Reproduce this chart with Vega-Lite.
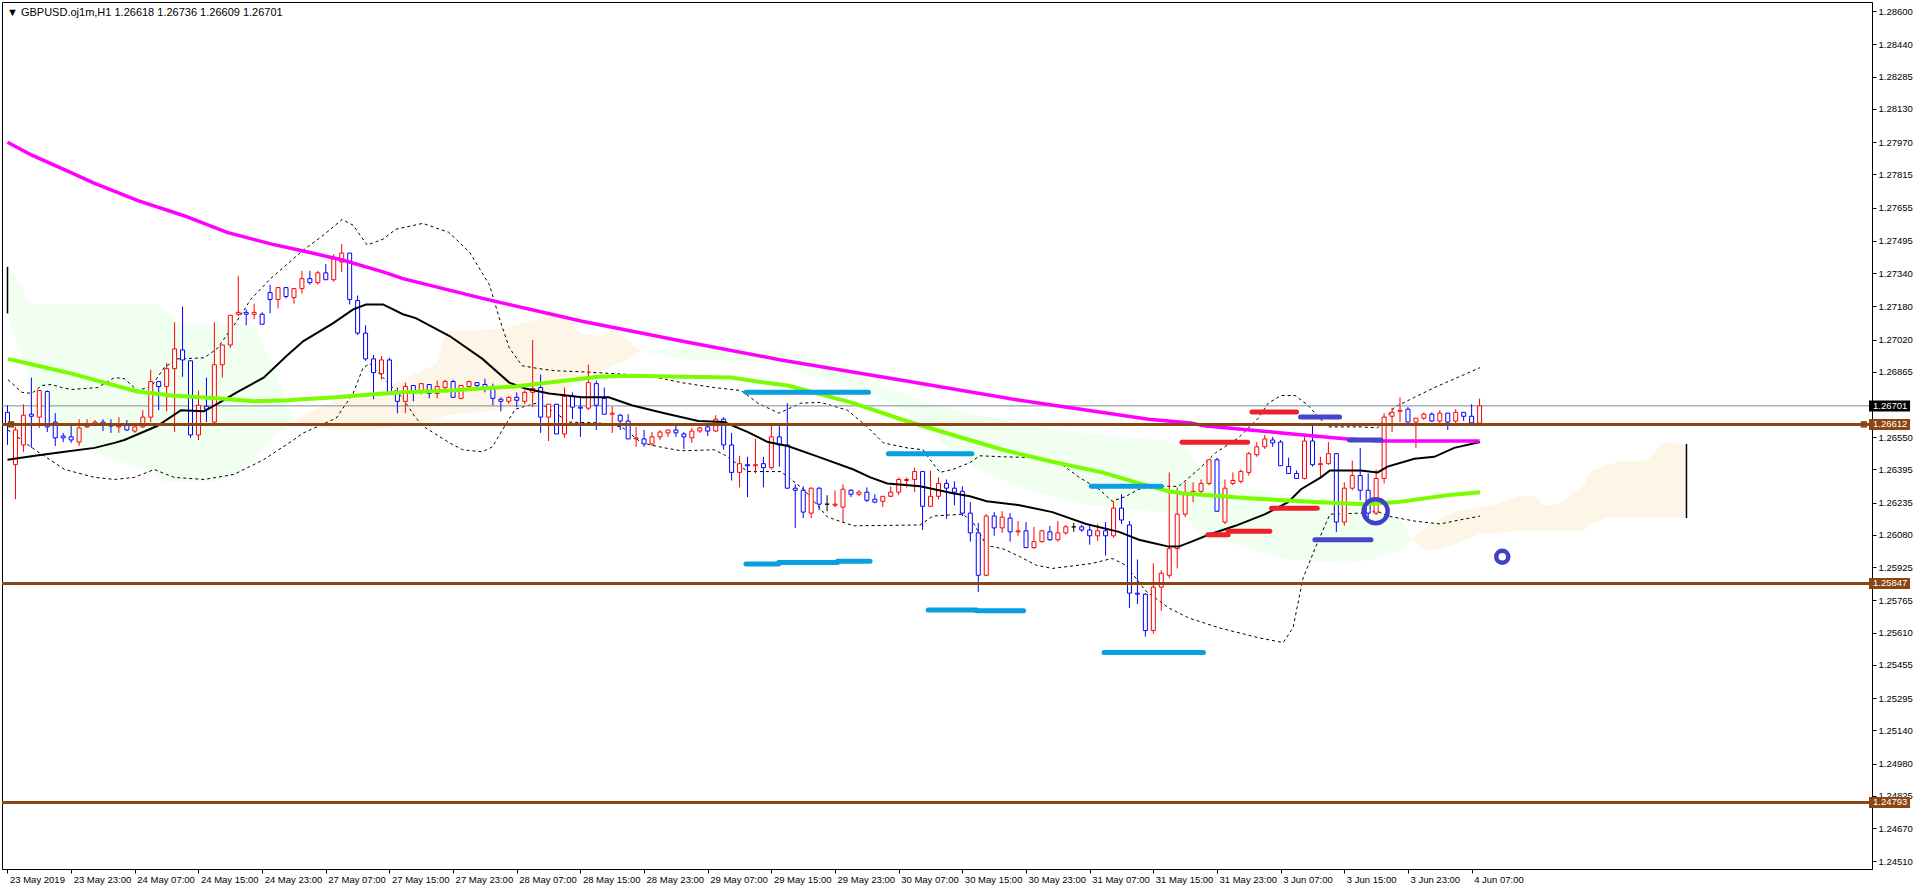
{
"$schema":"https://vega.github.io/schema/vega-lite/v6.json",
"width":1870,"height":867,
"autosize":{"type":"none"},
"padding":{"left":2,"top":2,"right":46,"bottom":21},
"background":"#ffffff",
"title":{"text":"▼ GBPUSD.oj1m,H1  1.26618 1.26736 1.26609 1.26701","anchor":"start","frame":"group","orient":"top","offset":-16,"fontSize":11,"fontWeight":"normal","font":"Liberation Sans","color":"#000000","dx":5},
"config":{"view":{"stroke":"#000000","strokeWidth":1},"axis":{"labelFont":"Liberation Sans","labelFontSize":9.5,"labelColor":"#000000","tickColor":"#000000","domainColor":"#000000","tickSize":4,"grid":false}},
"resolve":{"scale":{"color":"independent","size":"independent"},"axis":{"x":"independent","y":"independent"}},
"datasets":{
"candles":[
{"i":0,"o":1.26670,"h":1.26704,"l":1.26513,"c":1.26609},
{"i":1,"o":1.26418,"h":1.26600,"l":1.26252,"c":1.26585},
{"i":2,"o":1.26513,"h":1.26709,"l":1.26480,"c":1.26656},
{"i":3,"o":1.26661,"h":1.26837,"l":1.26499,"c":1.26651},
{"i":4,"o":1.26647,"h":1.26775,"l":1.26595,"c":1.26775},
{"i":5,"o":1.26770,"h":1.26775,"l":1.26575,"c":1.26600},
{"i":6,"o":1.26623,"h":1.26666,"l":1.26508,"c":1.26547},
{"i":7,"o":1.26556,"h":1.26571,"l":1.26527,"c":1.26547},
{"i":8,"o":1.26552,"h":1.26604,"l":1.26523,"c":1.26537},
{"i":9,"o":1.26527,"h":1.26637,"l":1.26508,"c":1.26595},
{"i":10,"o":1.26600,"h":1.26637,"l":1.26595,"c":1.26604},
{"i":11,"o":1.26614,"h":1.26633,"l":1.26604,"c":1.26623},
{"i":12,"o":1.26623,"h":1.26637,"l":1.26580,"c":1.26614},
{"i":13,"o":1.26609,"h":1.26637,"l":1.26571,"c":1.26604},
{"i":14,"o":1.26600,"h":1.26647,"l":1.26571,"c":1.26604},
{"i":15,"o":1.26609,"h":1.26633,"l":1.26580,"c":1.26585},
{"i":16,"o":1.26580,"h":1.26600,"l":1.26571,"c":1.26600},
{"i":17,"o":1.26600,"h":1.26680,"l":1.26595,"c":1.26647},
{"i":18,"o":1.26647,"h":1.26875,"l":1.26623,"c":1.26818},
{"i":19,"o":1.26818,"h":1.26818,"l":1.26680,"c":1.26794},
{"i":20,"o":1.26794,"h":1.26908,"l":1.26675,"c":1.26880},
{"i":21,"o":1.26880,"h":1.27103,"l":1.26575,"c":1.26975},
{"i":22,"o":1.26970,"h":1.27179,"l":1.26841,"c":1.26922},
{"i":23,"o":1.26918,"h":1.26918,"l":1.26547,"c":1.26561},
{"i":24,"o":1.26561,"h":1.26775,"l":1.26537,"c":1.26704},
{"i":25,"o":1.26699,"h":1.26837,"l":1.26623,"c":1.26685},
{"i":26,"o":1.26623,"h":1.27103,"l":1.26614,"c":1.26899},
{"i":27,"o":1.26899,"h":1.26994,"l":1.26837,"c":1.26994},
{"i":28,"o":1.26994,"h":1.27137,"l":1.26980,"c":1.27137},
{"i":29,"o":1.27142,"h":1.27327,"l":1.27132,"c":1.27151},
{"i":30,"o":1.27151,"h":1.27165,"l":1.27089,"c":1.27142},
{"i":31,"o":1.27142,"h":1.27193,"l":1.27118,"c":1.27151},
{"i":32,"o":1.27142,"h":1.27151,"l":1.27094,"c":1.27094},
{"i":33,"o":1.27246,"h":1.27284,"l":1.27146,"c":1.27213},
{"i":34,"o":1.27213,"h":1.27270,"l":1.27170,"c":1.27270},
{"i":35,"o":1.27270,"h":1.27270,"l":1.27218,"c":1.27227},
{"i":36,"o":1.27222,"h":1.27265,"l":1.27193,"c":1.27265},
{"i":37,"o":1.27265,"h":1.27351,"l":1.27241,"c":1.27313},
{"i":38,"o":1.27313,"h":1.27351,"l":1.27284,"c":1.27294},
{"i":39,"o":1.27294,"h":1.27351,"l":1.27284,"c":1.27341},
{"i":40,"o":1.27341,"h":1.27384,"l":1.27308,"c":1.27308},
{"i":41,"o":1.27308,"h":1.27431,"l":1.27298,"c":1.27408},
{"i":42,"o":1.27393,"h":1.27479,"l":1.27346,"c":1.27436},
{"i":43,"o":1.27436,"h":1.27436,"l":1.27189,"c":1.27213},
{"i":44,"o":1.27208,"h":1.27232,"l":1.27042,"c":1.27051},
{"i":45,"o":1.27051,"h":1.27089,"l":1.26918,"c":1.26927},
{"i":46,"o":1.26927,"h":1.26946,"l":1.26733,"c":1.26861},
{"i":47,"o":1.26856,"h":1.26941,"l":1.26827,"c":1.26922},
{"i":48,"o":1.26922,"h":1.26932,"l":1.26766,"c":1.26766},
{"i":49,"o":1.26766,"h":1.26789,"l":1.26666,"c":1.26723},
{"i":50,"o":1.26723,"h":1.26813,"l":1.26666,"c":1.26794},
{"i":51,"o":1.26799,"h":1.26799,"l":1.26723,"c":1.26766},
{"i":52,"o":1.26766,"h":1.26808,"l":1.26756,"c":1.26808},
{"i":53,"o":1.26804,"h":1.26804,"l":1.26737,"c":1.26761},
{"i":54,"o":1.26761,"h":1.26823,"l":1.26737,"c":1.26794},
{"i":55,"o":1.26789,"h":1.26827,"l":1.26766,"c":1.26818},
{"i":56,"o":1.26818,"h":1.26827,"l":1.26742,"c":1.26742},
{"i":57,"o":1.26737,"h":1.26799,"l":1.26733,"c":1.26799},
{"i":58,"o":1.26794,"h":1.26823,"l":1.26789,"c":1.26818},
{"i":59,"o":1.26813,"h":1.26813,"l":1.26789,"c":1.26799},
{"i":60,"o":1.26804,"h":1.26832,"l":1.26766,"c":1.26785},
{"i":61,"o":1.26785,"h":1.26808,"l":1.26704,"c":1.26737},
{"i":62,"o":1.26733,"h":1.26742,"l":1.26675,"c":1.26723},
{"i":63,"o":1.26723,"h":1.26747,"l":1.26709,"c":1.26742},
{"i":64,"o":1.26742,"h":1.26766,"l":1.26695,"c":1.26728},
{"i":65,"o":1.26723,"h":1.26775,"l":1.26709,"c":1.26766},
{"i":66,"o":1.26766,"h":1.27018,"l":1.26695,"c":1.26785},
{"i":67,"o":1.26789,"h":1.26851,"l":1.26571,"c":1.26647},
{"i":68,"o":1.26647,"h":1.26709,"l":1.26532,"c":1.26709},
{"i":69,"o":1.26709,"h":1.26709,"l":1.26566,"c":1.26566},
{"i":70,"o":1.26566,"h":1.26789,"l":1.26547,"c":1.26747},
{"i":71,"o":1.26747,"h":1.26766,"l":1.26637,"c":1.26695},
{"i":72,"o":1.26695,"h":1.26742,"l":1.26552,"c":1.26690},
{"i":73,"o":1.26690,"h":1.26899,"l":1.26680,"c":1.26813},
{"i":74,"o":1.26808,"h":1.26823,"l":1.26585,"c":1.26704},
{"i":75,"o":1.26737,"h":1.26789,"l":1.26661,"c":1.26661},
{"i":76,"o":1.26661,"h":1.26699,"l":1.26571,"c":1.26666},
{"i":77,"o":1.26656,"h":1.26661,"l":1.26585,"c":1.26628},
{"i":78,"o":1.26628,"h":1.26661,"l":1.26542,"c":1.26542},
{"i":79,"o":1.26542,"h":1.26600,"l":1.26504,"c":1.26547},
{"i":80,"o":1.26542,"h":1.26585,"l":1.26504,"c":1.26518},
{"i":81,"o":1.26518,"h":1.26575,"l":1.26508,"c":1.26552},
{"i":82,"o":1.26552,"h":1.26585,"l":1.26537,"c":1.26575},
{"i":83,"o":1.26571,"h":1.26585,"l":1.26552,"c":1.26585},
{"i":84,"o":1.26585,"h":1.26619,"l":1.26552,"c":1.26571},
{"i":85,"o":1.26566,"h":1.26575,"l":1.26494,"c":1.26552},
{"i":86,"o":1.26547,"h":1.26595,"l":1.26523,"c":1.26580},
{"i":87,"o":1.26580,"h":1.26600,"l":1.26571,"c":1.26595},
{"i":88,"o":1.26600,"h":1.26619,"l":1.26556,"c":1.26580},
{"i":89,"o":1.26580,"h":1.26656,"l":1.26575,"c":1.26637},
{"i":90,"o":1.26637,"h":1.26647,"l":1.26490,"c":1.26513},
{"i":91,"o":1.26513,"h":1.26571,"l":1.26342,"c":1.26381},
{"i":92,"o":1.26381,"h":1.26461,"l":1.26309,"c":1.26423},
{"i":93,"o":1.26418,"h":1.26456,"l":1.26262,"c":1.26413},
{"i":94,"o":1.26413,"h":1.26542,"l":1.26376,"c":1.26418},
{"i":95,"o":1.26423,"h":1.26456,"l":1.26309,"c":1.26404},
{"i":96,"o":1.26404,"h":1.26619,"l":1.26395,"c":1.26552},
{"i":97,"o":1.26552,"h":1.26604,"l":1.26409,"c":1.26513},
{"i":98,"o":1.26513,"h":1.26714,"l":1.26305,"c":1.26305},
{"i":99,"o":1.26305,"h":1.26323,"l":1.26114,"c":1.26295},
{"i":100,"o":1.26295,"h":1.26314,"l":1.26161,"c":1.26190},
{"i":101,"o":1.26185,"h":1.26309,"l":1.26161,"c":1.26305},
{"i":102,"o":1.26305,"h":1.26309,"l":1.26199,"c":1.26228},
{"i":103,"o":1.26228,"h":1.26271,"l":1.26194,"c":1.26228},
{"i":104,"o":1.26223,"h":1.26295,"l":1.26214,"c":1.26228},
{"i":105,"o":1.26214,"h":1.26323,"l":1.26142,"c":1.26300},
{"i":106,"o":1.26295,"h":1.26300,"l":1.26262,"c":1.26276},
{"i":107,"o":1.26276,"h":1.26295,"l":1.26266,"c":1.26286},
{"i":108,"o":1.26286,"h":1.26309,"l":1.26238,"c":1.26247},
{"i":109,"o":1.26252,"h":1.26276,"l":1.26233,"c":1.26238},
{"i":110,"o":1.26242,"h":1.26266,"l":1.26214,"c":1.26266},
{"i":111,"o":1.26266,"h":1.26314,"l":1.26262,"c":1.26286},
{"i":112,"o":1.26286,"h":1.26357,"l":1.26271,"c":1.26347},
{"i":113,"o":1.26342,"h":1.26357,"l":1.26309,"c":1.26347},
{"i":114,"o":1.26347,"h":1.26404,"l":1.26286,"c":1.26385},
{"i":115,"o":1.26385,"h":1.26385,"l":1.26104,"c":1.26218},
{"i":116,"o":1.26218,"h":1.26390,"l":1.26214,"c":1.26266},
{"i":117,"o":1.26266,"h":1.26357,"l":1.26252,"c":1.26328},
{"i":118,"o":1.26328,"h":1.26347,"l":1.26157,"c":1.26305},
{"i":119,"o":1.26305,"h":1.26338,"l":1.26223,"c":1.26286},
{"i":120,"o":1.26290,"h":1.26314,"l":1.26171,"c":1.26185},
{"i":121,"o":1.26185,"h":1.26238,"l":1.26048,"c":1.26090},
{"i":122,"o":1.26090,"h":1.26138,"l":1.25805,"c":1.25886},
{"i":123,"o":1.25886,"h":1.26180,"l":1.25881,"c":1.26171},
{"i":124,"o":1.26171,"h":1.26190,"l":1.26076,"c":1.26114},
{"i":125,"o":1.26114,"h":1.26194,"l":1.26090,"c":1.26166},
{"i":126,"o":1.26161,"h":1.26185,"l":1.26048,"c":1.26095},
{"i":127,"o":1.26095,"h":1.26147,"l":1.26076,"c":1.26100},
{"i":128,"o":1.26100,"h":1.26142,"l":1.26019,"c":1.26019},
{"i":129,"o":1.26019,"h":1.26119,"l":1.26014,"c":1.26048},
{"i":130,"o":1.26048,"h":1.26104,"l":1.26043,"c":1.26100},
{"i":131,"o":1.26095,"h":1.26124,"l":1.26052,"c":1.26057},
{"i":132,"o":1.26057,"h":1.26147,"l":1.26048,"c":1.26090},
{"i":133,"o":1.26090,"h":1.26128,"l":1.26081,"c":1.26119},
{"i":134,"o":1.26119,"h":1.26138,"l":1.26095,"c":1.26119},
{"i":135,"o":1.26119,"h":1.26128,"l":1.26095,"c":1.26104},
{"i":136,"o":1.26104,"h":1.26124,"l":1.26033,"c":1.26076},
{"i":137,"o":1.26076,"h":1.26133,"l":1.26052,"c":1.26100},
{"i":138,"o":1.26100,"h":1.26142,"l":1.25981,"c":1.26076},
{"i":139,"o":1.26076,"h":1.26242,"l":1.26067,"c":1.26209},
{"i":140,"o":1.26209,"h":1.26276,"l":1.26133,"c":1.26152},
{"i":141,"o":1.26128,"h":1.26147,"l":1.25729,"c":1.25800},
{"i":142,"o":1.25800,"h":1.25962,"l":1.25748,"c":1.25795},
{"i":143,"o":1.25795,"h":1.25800,"l":1.25591,"c":1.25620},
{"i":144,"o":1.25620,"h":1.25943,"l":1.25605,"c":1.25829},
{"i":145,"o":1.25829,"h":1.25910,"l":1.25715,"c":1.25896},
{"i":146,"o":1.25886,"h":1.26381,"l":1.25872,"c":1.26014},
{"i":147,"o":1.26014,"h":1.26309,"l":1.25919,"c":1.26180},
{"i":148,"o":1.26180,"h":1.26333,"l":1.26166,"c":1.26276},
{"i":149,"o":1.26276,"h":1.26333,"l":1.26238,"c":1.26290},
{"i":150,"o":1.26290,"h":1.26347,"l":1.26276,"c":1.26328},
{"i":151,"o":1.26328,"h":1.26442,"l":1.26319,"c":1.26442},
{"i":152,"o":1.26442,"h":1.26452,"l":1.26194,"c":1.26194},
{"i":153,"o":1.26142,"h":1.26347,"l":1.26133,"c":1.26305},
{"i":154,"o":1.26328,"h":1.26381,"l":1.26319,"c":1.26342},
{"i":155,"o":1.26338,"h":1.26395,"l":1.26328,"c":1.26385},
{"i":156,"o":1.26381,"h":1.26480,"l":1.26366,"c":1.26471},
{"i":157,"o":1.26466,"h":1.26527,"l":1.26456,"c":1.26504},
{"i":158,"o":1.26504,"h":1.26561,"l":1.26494,"c":1.26542},
{"i":159,"o":1.26537,"h":1.26552,"l":1.26504,"c":1.26523},
{"i":160,"o":1.26527,"h":1.26537,"l":1.26413,"c":1.26413},
{"i":161,"o":1.26409,"h":1.26452,"l":1.26376,"c":1.26376},
{"i":162,"o":1.26376,"h":1.26390,"l":1.26352,"c":1.26352},
{"i":163,"o":1.26352,"h":1.26552,"l":1.26347,"c":1.26532},
{"i":164,"o":1.26532,"h":1.26604,"l":1.26409,"c":1.26418},
{"i":165,"o":1.26418,"h":1.26456,"l":1.26357,"c":1.26423},
{"i":166,"o":1.26423,"h":1.26527,"l":1.26418,"c":1.26471},
{"i":167,"o":1.26471,"h":1.26475,"l":1.26095,"c":1.26142},
{"i":168,"o":1.26142,"h":1.26333,"l":1.26124,"c":1.26305},
{"i":169,"o":1.26305,"h":1.26437,"l":1.26295,"c":1.26366},
{"i":170,"o":1.26366,"h":1.26499,"l":1.26247,"c":1.26295},
{"i":171,"o":1.26295,"h":1.26376,"l":1.26157,"c":1.26185},
{"i":172,"o":1.26185,"h":1.26395,"l":1.26176,"c":1.26352},
{"i":173,"o":1.26352,"h":1.26666,"l":1.26328,"c":1.26647},
{"i":174,"o":1.26651,"h":1.26690,"l":1.26575,"c":1.26670},
{"i":175,"o":1.26675,"h":1.26742,"l":1.26623,"c":1.26680},
{"i":176,"o":1.26685,"h":1.26695,"l":1.26623,"c":1.26623},
{"i":177,"o":1.26623,"h":1.26642,"l":1.26499,"c":1.26642},
{"i":178,"o":1.26642,"h":1.26670,"l":1.26633,"c":1.26661},
{"i":179,"o":1.26661,"h":1.26670,"l":1.26623,"c":1.26628},
{"i":180,"o":1.26628,"h":1.26680,"l":1.26619,"c":1.26666},
{"i":181,"o":1.26666,"h":1.26666,"l":1.26585,"c":1.26623},
{"i":182,"o":1.26628,"h":1.26685,"l":1.26619,"c":1.26670},
{"i":183,"o":1.26670,"h":1.26670,"l":1.26628,"c":1.26651},
{"i":184,"o":1.26651,"h":1.26709,"l":1.26619,"c":1.26619},
{"i":185,"o":1.26618,"h":1.26736,"l":1.26609,"c":1.26701}
],
"ma200":[
{"i":0,"p":1.27969},{"i":3.06,"p":1.27907},{"i":8.06,"p":1.27822},{"i":10.8,"p":1.27774},{"i":16.4,"p":1.27688},{"i":22.1,"p":1.27617},{"i":27.6,"p":1.27536},{"i":33.2,"p":1.27479},{"i":36.6,"p":1.27451},{"i":42.1,"p":1.27403},{"i":47.2,"p":1.27346},{"i":49.7,"p":1.27313},{"i":59.7,"p":1.27218},{"i":72.2,"p":1.27108},{"i":84.7,"p":1.27013},{"i":97.2,"p":1.26922},{"i":112.6,"p":1.26823},{"i":127.2,"p":1.26728},{"i":143.4,"p":1.26637},{"i":148.7,"p":1.26619},{"i":150.6,"p":1.26604},{"i":160.1,"p":1.26571},{"i":168.4,"p":1.26542},{"i":172.6,"p":1.26532},{"i":185,"p":1.26532}
],
"ma":[
{"i":0,"p":1.26442},{"i":3.44,"p":1.26461},{"i":7.19,"p":1.26480},{"i":10.94,"p":1.26499},{"i":13.44,"p":1.26523},{"i":14.69,"p":1.26537},{"i":18.81,"p":1.26604},{"i":21.81,"p":1.26680},{"i":24.69,"p":1.26675},{"i":26.31,"p":1.26709},{"i":28.81,"p":1.26766},{"i":32.19,"p":1.26837},{"i":35.06,"p":1.26941},{"i":37.19,"p":1.27013},{"i":40.94,"p":1.27099},{"i":43.44,"p":1.27165},{"i":45.06,"p":1.27189},{"i":47.19,"p":1.27189},{"i":49.69,"p":1.27142},{"i":51.31,"p":1.27123},{"i":55.56,"p":1.27037},{"i":59.69,"p":1.26927},{"i":63.06,"p":1.26813},{"i":65.06,"p":1.26785},{"i":68.06,"p":1.26761},{"i":72.19,"p":1.26742},{"i":75.56,"p":1.26742},{"i":78.44,"p":1.26704},{"i":82.56,"p":1.26666},{"i":86.81,"p":1.26628},{"i":90.06,"p":1.26623},{"i":93.06,"p":1.26575},{"i":95.56,"p":1.26527},{"i":98.06,"p":1.26508},{"i":102.19,"p":1.26452},{"i":106.31,"p":1.26395},{"i":108.44,"p":1.26357},{"i":110.56,"p":1.26328},{"i":114.69,"p":1.26314},{"i":118.81,"p":1.26281},{"i":120.94,"p":1.26266},{"i":123.06,"p":1.26242},{"i":127.19,"p":1.26223},{"i":131.31,"p":1.26190},{"i":135.56,"p":1.26133},{"i":139.69,"p":1.26095},{"i":142.19,"p":1.26057},{"i":143.81,"p":1.26043},{"i":145.94,"p":1.26024},{"i":147.19,"p":1.26024},{"i":148.81,"p":1.26048},{"i":150.94,"p":1.26081},{"i":154.31,"p":1.26124},{"i":158.06,"p":1.26180},{"i":160.94,"p":1.26238},{"i":162.56,"p":1.26300},{"i":165.06,"p":1.26357},{"i":166.19,"p":1.26390},{"i":170.06,"p":1.26390},{"i":172.19,"p":1.26381},{"i":173.44,"p":1.26409},{"i":176.81,"p":1.26447},{"i":179.31,"p":1.26456},{"i":181.81,"p":1.26499},{"i":185.06,"p":1.26527}
],
"ema":[
{"i":0.06,"p":1.26927},{"i":3.81,"p":1.26894},{"i":8.06,"p":1.26856},{"i":12.19,"p":1.26813},{"i":16.31,"p":1.26770},{"i":20.56,"p":1.26751},{"i":26.81,"p":1.26737},{"i":30.94,"p":1.26723},{"i":35.06,"p":1.26728},{"i":41.31,"p":1.26742},{"i":45.56,"p":1.26756},{"i":49.69,"p":1.26766},{"i":55.56,"p":1.26775},{"i":63.81,"p":1.26794},{"i":68.06,"p":1.26813},{"i":74.31,"p":1.26841},{"i":78.44,"p":1.26846},{"i":84.69,"p":1.26841},{"i":90.94,"p":1.26837},{"i":95.06,"p":1.26813},{"i":98.06,"p":1.26799},{"i":106.31,"p":1.26714},{"i":112.56,"p":1.26633},{"i":118.81,"p":1.26561},{"i":125.06,"p":1.26490},{"i":131.31,"p":1.26432},{"i":137.56,"p":1.26381},{"i":141.81,"p":1.26333},{"i":145.94,"p":1.26290},{"i":147.56,"p":1.26281},{"i":155.94,"p":1.26257},{"i":164.31,"p":1.26238},{"i":170.56,"p":1.26228},{"i":174.69,"p":1.26238},{"i":180.94,"p":1.26271},{"i":185.06,"p":1.26286}
],
"bbu":[
{"i":0.06,"p":1.26827},{"i":1.81,"p":1.26766},{"i":3.06,"p":1.26761},{"i":4.31,"p":1.26799},{"i":5.56,"p":1.26804},{"i":6.81,"p":1.26789},{"i":8.06,"p":1.26780},{"i":11.31,"p":1.26789},{"i":13.44,"p":1.26837},{"i":14.69,"p":1.26832},{"i":16.31,"p":1.26775},{"i":18.06,"p":1.26794},{"i":19.69,"p":1.26885},{"i":21.31,"p":1.26927},{"i":24.69,"p":1.26932},{"i":26.31,"p":1.26975},{"i":28.81,"p":1.27108},{"i":30.56,"p":1.27213},{"i":33.06,"p":1.27313},{"i":35.44,"p":1.27393},{"i":37.19,"p":1.27451},{"i":39.69,"p":1.27522},{"i":42.06,"p":1.27598},{"i":43.44,"p":1.27570},{"i":45.19,"p":1.27475},{"i":47.19,"p":1.27503},{"i":48.81,"p":1.27551},{"i":52.19,"p":1.27579},{"i":55.44,"p":1.27536},{"i":58.06,"p":1.27441},{"i":60.56,"p":1.27284},{"i":61.81,"p":1.27123},{"i":63.06,"p":1.26980},{"i":64.69,"p":1.26894},{"i":66.81,"p":1.26880},{"i":68.81,"p":1.26870},{"i":72.19,"p":1.26865},{"i":76.31,"p":1.26856},{"i":80.56,"p":1.26846},{"i":84.69,"p":1.26813},{"i":88.81,"p":1.26789},{"i":92.19,"p":1.26775},{"i":94.31,"p":1.26714},{"i":96.94,"p":1.26666},{"i":99.69,"p":1.26714},{"i":102.19,"p":1.26718},{"i":105.56,"p":1.26680},{"i":108.06,"p":1.26600},{"i":110.06,"p":1.26523},{"i":113.06,"p":1.26499},{"i":115.06,"p":1.26490},{"i":115.94,"p":1.26442},{"i":117.19,"p":1.26381},{"i":118.81,"p":1.26395},{"i":120.94,"p":1.26428},{"i":122.19,"p":1.26461},{"i":125.06,"p":1.26456},{"i":129.31,"p":1.26452},{"i":132.19,"p":1.26428},{"i":134.69,"p":1.26357},{"i":137.19,"p":1.26300},{"i":138.81,"p":1.26242},{"i":140.56,"p":1.26266},{"i":142.19,"p":1.26300},{"i":143.81,"p":1.26314},{"i":147.19,"p":1.26314},{"i":149.69,"p":1.26395},{"i":151.81,"p":1.26475},{"i":154.69,"p":1.26547},{"i":157.19,"p":1.26642},{"i":158.44,"p":1.26714},{"i":160.06,"p":1.26751},{"i":161.81,"p":1.26751},{"i":163.44,"p":1.26704},{"i":164.31,"p":1.26666},{"i":165.94,"p":1.26600},{"i":170.06,"p":1.26600},{"i":172.19,"p":1.26595},{"i":174.31,"p":1.26695},{"i":176.81,"p":1.26742},{"i":179.31,"p":1.26789},{"i":182.19,"p":1.26837},{"i":185.06,"p":1.26885}
],
"bbl":[
{"i":0.06,"p":1.26585},{"i":3.44,"p":1.26490},{"i":7.19,"p":1.26395},{"i":10.94,"p":1.26357},{"i":13.44,"p":1.26347},{"i":15.94,"p":1.26357},{"i":18.44,"p":1.26395},{"i":20.94,"p":1.26357},{"i":24.69,"p":1.26347},{"i":28.44,"p":1.26371},{"i":32.19,"p":1.26442},{"i":35.94,"p":1.26537},{"i":37.19,"p":1.26571},{"i":41.31,"p":1.26642},{"i":43.44,"p":1.26761},{"i":44.69,"p":1.26885},{"i":45.56,"p":1.26904},{"i":47.19,"p":1.26837},{"i":49.69,"p":1.26737},{"i":51.31,"p":1.26642},{"i":52.56,"p":1.26595},{"i":55.56,"p":1.26523},{"i":57.19,"p":1.26490},{"i":59.69,"p":1.26480},{"i":60.94,"p":1.26504},{"i":62.19,"p":1.26585},{"i":63.81,"p":1.26685},{"i":66.81,"p":1.26718},{"i":70.56,"p":1.26623},{"i":74.31,"p":1.26619},{"i":77.19,"p":1.26600},{"i":79.69,"p":1.26523},{"i":82.56,"p":1.26499},{"i":84.69,"p":1.26485},{"i":88.81,"p":1.26490},{"i":90.06,"p":1.26466},{"i":93.06,"p":1.26385},{"i":97.19,"p":1.26385},{"i":100.06,"p":1.26300},{"i":103.06,"p":1.26166},{"i":106.31,"p":1.26124},{"i":114.69,"p":1.26128},{"i":116.31,"p":1.26171},{"i":120.06,"p":1.26180},{"i":121.31,"p":1.26142},{"i":123.06,"p":1.26029},{"i":125.06,"p":1.26014},{"i":127.19,"p":1.25976},{"i":129.31,"p":1.25934},{"i":131.31,"p":1.25919},{"i":133.44,"p":1.25929},{"i":136.31,"p":1.25943},{"i":138.81,"p":1.25967},{"i":140.56,"p":1.25934},{"i":143.06,"p":1.25810},{"i":145.94,"p":1.25729},{"i":148.44,"p":1.25681},{"i":152.19,"p":1.25634},{"i":157.19,"p":1.25586},{"i":160.31,"p":1.25562},{"i":161.56,"p":1.25634},{"i":162.81,"p":1.25872},{"i":164.31,"p":1.26014},{"i":165.56,"p":1.26124},{"i":166.19,"p":1.26180},{"i":170.06,"p":1.26185},{"i":172.19,"p":1.26194},{"i":173.44,"p":1.26171},{"i":176.81,"p":1.26147},{"i":180.06,"p":1.26133},{"i":181.81,"p":1.26147},{"i":185.06,"p":1.26171}
],
"cloud":[
{"i":0,"top":1.27370,"bot":1.27146,"kind":"g","seg":1},{"i":1,"top":1.27322,"bot":1.27032,"kind":"g","seg":1},{"i":2,"top":1.27256,"bot":1.26918,"kind":"g","seg":1},{"i":3,"top":1.27189,"bot":1.26823,"kind":"g","seg":1},{"i":5,"top":1.27189,"bot":1.26633,"kind":"g","seg":1},{"i":10,"top":1.27189,"bot":1.26490,"kind":"g","seg":1},{"i":17,"top":1.27189,"bot":1.26395,"kind":"g","seg":1},{"i":19,"top":1.27189,"bot":1.26352,"kind":"g","seg":1},{"i":20,"top":1.27156,"bot":1.26333,"kind":"g","seg":1},{"i":22,"top":1.27094,"bot":1.26333,"kind":"g","seg":1},{"i":26,"top":1.27094,"bot":1.26333,"kind":"g","seg":1},{"i":30,"top":1.27094,"bot":1.26395,"kind":"g","seg":1},{"i":31,"top":1.27094,"bot":1.26442,"kind":"g","seg":1},{"i":33,"top":1.26918,"bot":1.26537,"kind":"g","seg":1},{"i":35,"top":1.26728,"bot":1.26609,"kind":"g","seg":1},{"i":36,"top":1.26633,"bot":1.26633,"kind":"g","seg":1},
{"i":36,"top":1.26633,"bot":1.26633,"kind":"p","seg":2},{"i":41,"top":1.26728,"bot":1.26585,"kind":"p","seg":2},{"i":46,"top":1.26761,"bot":1.26585,"kind":"p","seg":2},{"i":54,"top":1.26904,"bot":1.26633,"kind":"p","seg":2},{"i":55,"top":1.27061,"bot":1.26656,"kind":"p","seg":2},{"i":62,"top":1.27070,"bot":1.26680,"kind":"p","seg":2},{"i":67,"top":1.27123,"bot":1.26728,"kind":"p","seg":2},{"i":68,"top":1.27156,"bot":1.26751,"kind":"p","seg":2},{"i":70,"top":1.27146,"bot":1.26775,"kind":"p","seg":2},{"i":71,"top":1.27094,"bot":1.26799,"kind":"p","seg":2},{"i":72,"top":1.27046,"bot":1.26823,"kind":"p","seg":2},{"i":75,"top":1.27037,"bot":1.26870,"kind":"p","seg":2},{"i":76,"top":1.27070,"bot":1.26894,"kind":"p","seg":2},{"i":78,"top":1.27013,"bot":1.26927,"kind":"p","seg":2},{"i":79.5,"top":1.26965,"bot":1.26965,"kind":"p","seg":2},
{"i":79.5,"top":1.26965,"bot":1.26965,"kind":"g","seg":3},{"i":85,"top":1.26980,"bot":1.26927,"kind":"g","seg":3},{"i":92,"top":1.26975,"bot":1.26918,"kind":"g","seg":3},{"i":97,"top":1.26965,"bot":1.26908,"kind":"g","seg":3},{"i":100,"top":1.26941,"bot":1.26861,"kind":"g","seg":3},{"i":105,"top":1.26894,"bot":1.26799,"kind":"g","seg":3},{"i":110,"top":1.26799,"bot":1.26728,"kind":"g","seg":3},{"i":113,"top":1.26751,"bot":1.26666,"kind":"g","seg":3},{"i":117,"top":1.26704,"bot":1.26537,"kind":"g","seg":3},{"i":122,"top":1.26656,"bot":1.26395,"kind":"g","seg":3},{"i":128,"top":1.26609,"bot":1.26300,"kind":"g","seg":3},{"i":135,"top":1.26571,"bot":1.26228,"kind":"g","seg":3},{"i":140,"top":1.26552,"bot":1.26204,"kind":"g","seg":3},{"i":145,"top":1.26537,"bot":1.26190,"kind":"g","seg":3},{"i":148,"top":1.26504,"bot":1.26190,"kind":"g","seg":3},{"i":150,"top":1.26395,"bot":1.26062,"kind":"g","seg":3},{"i":153,"top":1.26323,"bot":1.26052,"kind":"g","seg":3},{"i":160,"top":1.26276,"bot":1.25967,"kind":"g","seg":3},{"i":168,"top":1.26252,"bot":1.25943,"kind":"g","seg":3},{"i":172,"top":1.26204,"bot":1.25967,"kind":"g","seg":3},{"i":175,"top":1.26157,"bot":1.26000,"kind":"g","seg":3},{"i":176.5,"top":1.26062,"bot":1.26062,"kind":"g","seg":3},
{"i":176.5,"top":1.26062,"bot":1.26062,"kind":"p","seg":4},{"i":178,"top":1.26109,"bot":1.26005,"kind":"p","seg":4},{"i":180,"top":1.26157,"bot":1.26014,"kind":"p","seg":4},{"i":182,"top":1.26194,"bot":1.26038,"kind":"p","seg":4},{"i":185,"top":1.26214,"bot":1.26086,"kind":"p","seg":4},{"i":187,"top":1.26228,"bot":1.26090,"kind":"p","seg":4},{"i":190,"top":1.26266,"bot":1.26100,"kind":"p","seg":4},{"i":192,"top":1.26266,"bot":1.26100,"kind":"p","seg":4},{"i":193,"top":1.26223,"bot":1.26100,"kind":"p","seg":4},{"i":195,"top":1.26228,"bot":1.26100,"kind":"p","seg":4},{"i":197,"top":1.26290,"bot":1.26100,"kind":"p","seg":4},{"i":198,"top":1.26314,"bot":1.26100,"kind":"p","seg":4},{"i":199,"top":1.26385,"bot":1.26133,"kind":"p","seg":4},{"i":201,"top":1.26418,"bot":1.26161,"kind":"p","seg":4},{"i":203,"top":1.26437,"bot":1.26166,"kind":"p","seg":4},{"i":206,"top":1.26437,"bot":1.26166,"kind":"p","seg":4},{"i":208,"top":1.26523,"bot":1.26166,"kind":"p","seg":4},{"i":211,"top":1.26518,"bot":1.26161,"kind":"p","seg":4}
],
"vbars":[{"i":0,"p1":1.27370,"p2":1.27146},{"i":211,"p1":1.26518,"p2":1.26161}],
"levels":[{"p":1.26612},{"p":1.25847},{"p":1.24793}],
"bid":[{"p":1.26701}],
"ends":[{"i":0.44,"p":1.26612},{"i":233.3,"p":1.26612}],
"segs":[
{"x1":92.8,"x2":108.2,"p":1.26766,"kind":"cyan"},{"x1":110.7,"x2":121.2,"p":1.26471,"kind":"cyan"},{"x1":136.2,"x2":145.0,"p":1.26314,"kind":"cyan"},{"x1":92.8,"x2":96.9,"p":1.25940,"kind":"cyan"},{"x1":96.9,"x2":104.3,"p":1.25947,"kind":"cyan"},{"x1":104.3,"x2":108.4,"p":1.25953,"kind":"cyan"},{"x1":115.7,"x2":121.8,"p":1.25719,"kind":"cyan"},{"x1":121.8,"x2":127.7,"p":1.25715,"kind":"cyan"},{"x1":137.8,"x2":150.3,"p":1.25515,"kind":"cyan"},
{"x1":147.6,"x2":155.85,"p":1.26526,"kind":"red"},{"x1":156.4,"x2":162.0,"p":1.26672,"kind":"red"},{"x1":158.85,"x2":164.6,"p":1.26208,"kind":"red"},{"x1":150.85,"x2":153.4,"p":1.26081,"kind":"red"},{"x1":153.4,"x2":158.65,"p":1.26098,"kind":"red"},
{"x1":162.5,"x2":167.4,"p":1.26647,"kind":"blue"},{"x1":168.65,"x2":172.6,"p":1.26537,"kind":"blue"},{"x1":164.3,"x2":171.35,"p":1.26057,"kind":"blue"}
],
"rings":[{"i":171.94,"p":1.26194,"kind":"big"},{"i":187.85,"p":1.25975,"kind":"small"}],
"tags":[{"p":1.26701,"t":"1.26701","kind":"bid"},{"p":1.26612,"t":"1.26612","kind":"lvl"},{"p":1.25847,"t":"1.25847","kind":"lvl"},{"p":1.24793,"t":"1.24793","kind":"lvl"}]
},
"layer":[
{"data":{"name":"cloud"},"mark":{"type":"area","opacity":1,"strokeWidth":0},
 "encoding":{"x":{"field":"i","type":"quantitative","scale":{"domain":[-0.0625,233.6875],"nice":false,"zero":false},"axis":null},
 "y":{"field":"top","type":"quantitative","scale":{"domain":[1.24497,1.2862],"nice":false,"zero":false},"axis":null},
 "y2":{"field":"bot"},
 "color":{"field":"kind","type":"nominal","scale":{"domain":["g","p"],"range":["#f0fff0","#fdf5e6"]},"legend":null},
 "detail":{"field":"seg","type":"nominal"}}},
{"data":{"name":"vbars"},"mark":{"type":"rule","color":"#000000","strokeWidth":1.5},
 "encoding":{"x":{"field":"i","type":"quantitative","axis":null},"y":{"field":"p1","type":"quantitative","axis":null},"y2":{"field":"p2"}}},
{"data":{"name":"bbu"},"mark":{"type":"line","color":"#000000","strokeWidth":1,"strokeDash":[3,3]},
 "encoding":{"x":{"field":"i","type":"quantitative","axis":null},"y":{"field":"p","type":"quantitative","axis":null}}},
{"data":{"name":"bbl"},"mark":{"type":"line","color":"#000000","strokeWidth":1,"strokeDash":[3,3]},
 "encoding":{"x":{"field":"i","type":"quantitative","axis":null},"y":{"field":"p","type":"quantitative","axis":null}}},
{"data":{"name":"bid"},"mark":{"type":"rule","color":"#7c8a99","strokeWidth":1},
 "encoding":{"y":{"field":"p","type":"quantitative","axis":null}}},
{"data":{"name":"candles"},"mark":{"type":"rule","strokeWidth":1},
 "encoding":{"x":{"field":"i","type":"quantitative","scale":{"domain":[-0.0625,233.6875],"nice":false,"zero":false},
   "axis":{"title":null,"values":[0,8,16,24,32,40,48,56,64,72,80,88,96,104,112,120,128,136,144,152,160,168,176,184],
   "labelExpr":"['23 May 2019','23 May 23:00','24 May 07:00','24 May 15:00','24 May 23:00','27 May 07:00','27 May 15:00','27 May 23:00','28 May 07:00','28 May 15:00','28 May 23:00','29 May 07:00','29 May 15:00','29 May 23:00','30 May 07:00','30 May 15:00','30 May 23:00','31 May 07:00','31 May 15:00','31 May 23:00','3 Jun 07:00','3 Jun 15:00','3 Jun 23:00','4 Jun 07:00'][round(datum.value/8)]",
   "labelAlign":"left","labelOffset":2,"labelPadding":1,"labelBaseline":"top","labelOverlap":false,"labelFlush":false}},
 "y":{"field":"l","type":"quantitative","scale":{"domain":[1.24497,1.2862],"nice":false,"zero":false},
   "axis":{"orient":"right","title":null,"format":".5f","labelPadding":2,"labelOverlap":false,"labelFlush":false,
   "values":[1.286,1.2844,1.28285,1.2813,1.2797,1.27815,1.27655,1.27495,1.2734,1.2718,1.2702,1.26865,1.2655,1.26395,1.26235,1.2608,1.25925,1.25765,1.2561,1.25455,1.25295,1.2514,1.2498,1.24825,1.2467,1.2451]}},
 "y2":{"field":"h"},
 "color":{"condition":[{"test":"datum.c > datum.o","value":"#ff0000"},{"test":"datum.c < datum.o","value":"#0000ff"}],"value":"#000000"}}},
{"data":{"name":"candles"},"mark":{"type":"bar","width":4,"fill":"#ffffff","strokeWidth":1},
 "encoding":{"x":{"field":"i","type":"quantitative","axis":null},"y":{"field":"o","type":"quantitative","axis":null},"y2":{"field":"c"},
 "stroke":{"condition":[{"test":"datum.c > datum.o","value":"#ff0000"},{"test":"datum.c < datum.o","value":"#0000ff"}],"value":"#000000"}}},
{"data":{"name":"ma"},"mark":{"type":"line","color":"#000000","strokeWidth":2},
 "encoding":{"x":{"field":"i","type":"quantitative","axis":null},"y":{"field":"p","type":"quantitative","axis":null}}},
{"data":{"name":"ma200"},"mark":{"type":"line","color":"#ff00ff","strokeWidth":3.5},
 "encoding":{"x":{"field":"i","type":"quantitative","axis":null},"y":{"field":"p","type":"quantitative","axis":null}}},
{"data":{"name":"ema"},"mark":{"type":"line","color":"#7cfc00","strokeWidth":4},
 "encoding":{"x":{"field":"i","type":"quantitative","axis":null},"y":{"field":"p","type":"quantitative","axis":null}}},
{"data":{"name":"levels"},"mark":{"type":"rule","color":"#8b4513","strokeWidth":3},
 "encoding":{"y":{"field":"p","type":"quantitative","axis":null}}},
{"data":{"name":"ends"},"mark":{"type":"point","shape":"square","filled":true,"color":"#8b4513","size":40,"opacity":1},
 "encoding":{"x":{"field":"i","type":"quantitative","axis":null},"y":{"field":"p","type":"quantitative","axis":null}}},
{"data":{"name":"segs"},"mark":{"type":"rule","strokeWidth":5,"strokeCap":"round"},
 "encoding":{"x":{"field":"x1","type":"quantitative","axis":null},"x2":{"field":"x2"},"y":{"field":"p","type":"quantitative","axis":null},
 "color":{"field":"kind","type":"nominal","scale":{"domain":["cyan","red","blue"],"range":["#0a9fe0","#ee2028","#4646c8"]},"legend":null}}},
{"data":{"name":"rings"},"mark":{"type":"point","shape":"circle","filled":false,"strokeWidth":4.5,"color":"#4040c8","opacity":1},
 "encoding":{"x":{"field":"i","type":"quantitative","axis":null},"y":{"field":"p","type":"quantitative","axis":null},
 "size":{"field":"kind","type":"nominal","scale":{"domain":["big","small"],"range":[576,144]},"legend":null}}},
{"data":{"name":"tags"},"mark":{"type":"bar","height":11,"orient":"horizontal"},
 "encoding":{"x":{"datum":233.94,"type":"quantitative","axis":null},"x2":{"datum":239.1},"y":{"field":"p","type":"quantitative","axis":null},
 "color":{"field":"kind","type":"nominal","scale":{"domain":["bid","lvl"],"range":["#000000","#8b4513"]},"legend":null}}},
{"data":{"name":"tags"},"mark":{"type":"text","align":"left","baseline":"middle","color":"#ffffff","font":"Liberation Sans","fontSize":9.5},
 "encoding":{"x":{"datum":234.44,"type":"quantitative","axis":null},"y":{"field":"p","type":"quantitative","axis":null},"text":{"field":"t"}}}
]
}
